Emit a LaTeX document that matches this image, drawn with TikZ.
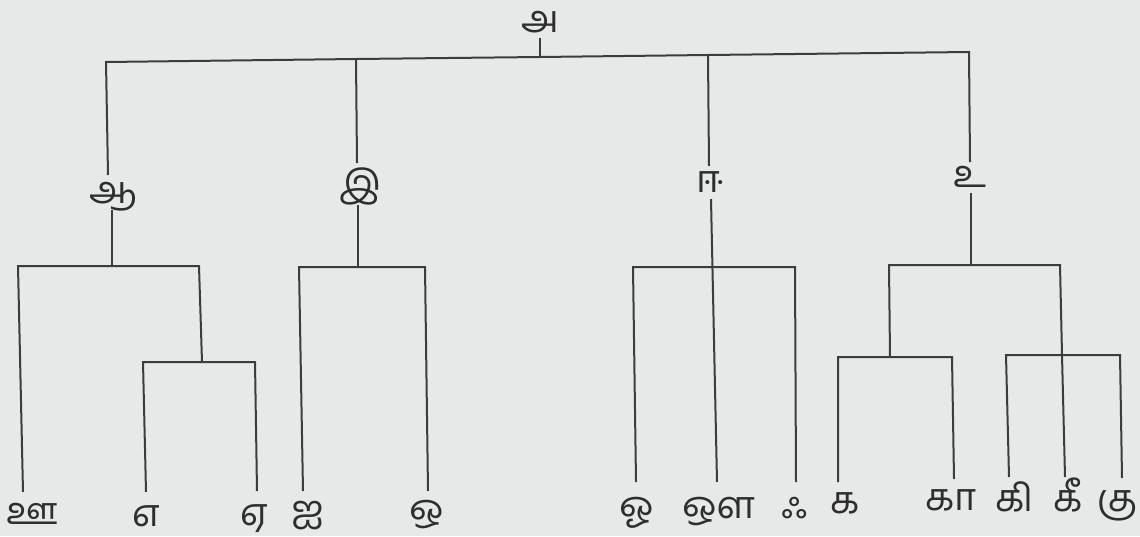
\documentclass[tikz,border=0pt]{standalone}
\usepackage{fontspec}
\newfontfamily\tamilfont[Script=Tamil]{Hind Madurai}
\definecolor{bgpaper}{HTML}{E7E9E9}
\definecolor{ink}{HTML}{3C3C3C}
\definecolor{inktext}{HTML}{2E2E2E}
\tikzset{
  lbl/.style={font=\tamilfont\fontsize{38}{38}\selectfont, text=inktext, inner sep=0pt,
              text height=20pt, text depth=0pt, anchor=center},
  branch/.style={draw=ink, line width=2pt, line join=miter}
}
\begin{document}
\begin{tikzpicture}[x=1pt,y=-1pt]
\fill[bgpaper] (0,0) rectangle (1140,536);
\useasboundingbox (0,0) rectangle (1140,536);

% labels
\node[lbl] (a)   at (540,22)  {அ};
\node[lbl] (aa)  at (113,193) {ஆ};
\node[lbl] (i)   at (360,187) {இ};
\node[lbl] (ii)  at (710,182) {ஈ};
\node[lbl] (u)   at (970,177) {உ};

\node[lbl] (uu)  at (32,514)  {ஊ};
\node[lbl] (e)   at (146,516) {எ};
\node[lbl] (ee)  at (254,515) {ஏ};
\node[lbl] (ai)  at (308,512) {ஐ};
\node[lbl] (o)   at (427,511) {ஒ};
\node[lbl] (oo)  at (637,508) {ஓ};
\node[lbl] (au)  at (719,508) {ஔ};
\node[lbl] (ak)  at (795,508) {ஃ};
\node[lbl] (ka)  at (845,503) {க};
\node[lbl] (kaa) at (951,500) {கா};
\node[lbl] (ki)  at (1015,501){கி};
\node[lbl] (kii) at (1068,501){கீ};
\node[lbl] (ku)  at (1118,501){கு};

% junction coordinates
\coordinate (aB)  at (540,38);
\coordinate (b0)  at (540,57);
\coordinate (b1)  at (106,62);
\coordinate (b2)  at (356,59);
\coordinate (b3)  at (708,55);
\coordinate (b4)  at (969,52);

\coordinate (aaT) at (108,175);
\coordinate (iT)  at (357,163);
\coordinate (iiT) at (709,166);
\coordinate (uT)  at (970,162);

\coordinate (aaB) at (112,210);
\coordinate (iB)  at (358,205);
\coordinate (iiB) at (711,199);
\coordinate (uB)  at (971,193);

% subtree aa
\coordinate (aaJ) at (112,266);
\coordinate (aaL) at (18,266);
\coordinate (aaR) at (199,266);
\coordinate (aaS) at (202,362);
\coordinate (aaSL) at (143,362);
\coordinate (aaSR) at (255,362);
\coordinate (uuE) at (23,492);
\coordinate (eE)  at (146,492);
\coordinate (eeE) at (257,491);

% subtree i
\coordinate (iJ)  at (358,267);
\coordinate (iL)  at (299,267);
\coordinate (iR)  at (425,267);
\coordinate (aiE) at (303,491);
\coordinate (oE)  at (428,491);

% subtree ii
\coordinate (iiL) at (633,267);
\coordinate (iiR) at (795,267);
\coordinate (ooE) at (636,482);
\coordinate (auE) at (717,482);
\coordinate (akE) at (796,482);

% subtree u
\coordinate (uJ)  at (971,265);
\coordinate (uL)  at (889,265);
\coordinate (uR)  at (1060,265);
\coordinate (uLS) at (890,357);
\coordinate (uLL) at (838,357);
\coordinate (uLR) at (952,357);
\coordinate (uRS) at (1062,355);
\coordinate (uRL) at (1006,355);
\coordinate (uRR) at (1120,355);
\coordinate (kaE)  at (838,482);
\coordinate (kaaE) at (954,479);
\coordinate (kiE)  at (1009,477);
\coordinate (kiiE) at (1065,477);
\coordinate (kuE)  at (1122,478);

% top level
\draw[branch] (aB) -- (b0);
\draw[branch] (aaT) -- (b1) -- (b2) -- (b0) -- (b3) -- (b4) -- (uT);
\draw[branch] (b2) -- (iT);
\draw[branch] (b3) -- (iiT);

% aa subtree
\draw[branch] (aaB) -- (aaJ);
\draw[branch] (uuE) -- (aaL) -- (aaR) -- (aaS);
\draw[branch] (eE) -- (aaSL) -- (aaSR) -- (eeE);

% i subtree
\draw[branch] (iB) -- (iJ);
\draw[branch] (aiE) -- (iL) -- (iR) -- (oE);

% ii subtree
\draw[branch] (iiB) -- (auE);
\draw[branch] (ooE) -- (iiL) -- (iiR) -- (akE);

% u subtree
\draw[branch] (uB) -- (uJ);
\draw[branch] (uLS) -- (uL) -- (uR) -- (uRS) -- (kiiE);
\draw[branch] (kaE) -- (uLL) -- (uLR) -- (kaaE);
\draw[branch] (kiE) -- (uRL) -- (uRR) -- (kuE);
\end{tikzpicture}
\end{document}
